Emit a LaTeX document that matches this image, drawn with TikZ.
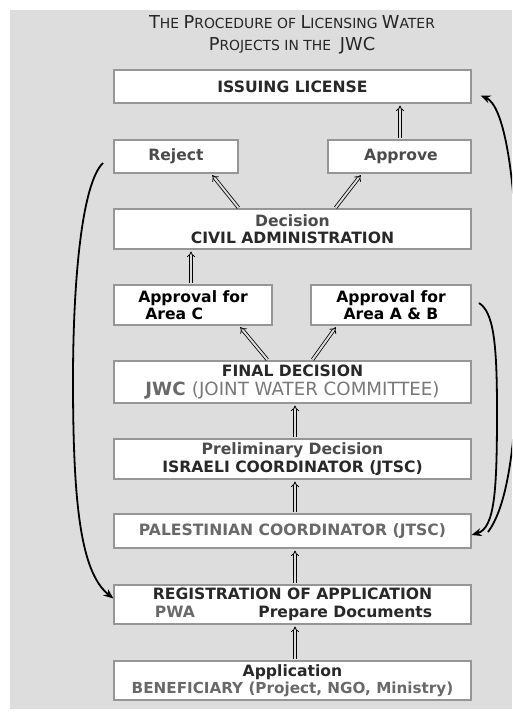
\documentclass[tikz,border=0pt]{standalone}
\usepackage{fontspec}
\setmainfont{DejaVu Sans}
\usepackage{calc}
\usetikzlibrary{arrows.meta}
\definecolor{bg}{RGB}{221,221,221}
\definecolor{boxline}{RGB}{150,150,150}
\definecolor{txtdark}{RGB}{40,40,40}
\definecolor{txtmid}{RGB}{75,75,75}
\definecolor{txtgray}{RGB}{105,105,105}
\definecolor{txtlight}{RGB}{120,120,120}
\newcommand\BG[1]{{\fontsize{17.8}{20}\selectfont#1}}
\begin{document}
\begin{tikzpicture}[x=1pt,y=-1pt,
  box/.style={draw=boxline, line width=1.1pt, fill=white, inner sep=0pt,
    font=\fontsize{15.6}{17.5}\selectfont\bfseries, text=txtdark, align=center},
  wide/.style={box, minimum width=357pt},
  dbl/.style={draw=black, line width=0.8pt, double=bg, double distance=2pt,
    -{Implies[length=5pt]}, shorten <=1pt, shorten >=2pt},
  curv/.style={draw=black, line width=1.8pt, -{Stealth[length=10pt,width=8pt]}},
  curvn/.style={draw=black, line width=1.8pt}]
\useasboundingbox (0,0) rectangle (512,713);
\fill[bg] (10,10) rectangle (512,709);

\node[text=black!85, align=center, font=\fontsize{13.9}{22.5}\selectfont] (title) at (292,35)
  {\BG{T}HE \BG{P}ROCEDURE OF \BG{L}ICENSING \BG{W}ATER\\ \BG{P}ROJECTS IN THE \ \BG{JWC}};

\node[wide, minimum height=33pt] (lic) at (292.5,86.5) {ISSUING LICENSE};
\node[box, minimum width=124pt, minimum height=33pt, text=txtmid] (rej) at (176,156.5) {Reject};
\node[box, minimum width=143pt, minimum height=33pt, text=txtmid] (app) at (399.5,156.5) {\hspace{3pt}Approve};
\node[wide, minimum height=40pt] (dec) at (292.5,229) {{\color{txtmid}Decision}\\CIVIL ADMINISTRATION};
\node[box, minimum width=158pt, minimum height=40pt, text=black, align=left] (areaC) at (193,305) {Approval for\\\hspace{7pt}Area C};
\node[box, minimum width=160pt, minimum height=40pt, text=black] (areaAB) at (391,305) {Approval for\\Area A \& B};
\node[wide, minimum height=42pt] (fin) at (292.5,382) {FINAL DECISION\\[1pt]{\fontsize{18.2}{20}\selectfont\color{txtgray}JWC \mdseries\color{txtlight}(JOINT WATER COMMITTEE)}};
\node[wide, minimum height=40pt] (pre) at (292.5,459) {{\color{txtmid}Preliminary Decision}\\ISRAELI COORDINATOR (JTSC)};
\node[wide, minimum height=34pt, text=txtgray] (pal) at (292.5,531) {PALESTINIAN COORDINATOR (JTSC)};
\node[wide, minimum height=39pt] (reg) at (292.5,604.5) {REGISTRATION OF APPLICATION\\\makebox[\widthof{REGISTRATION OF APPLICATION}]{\hspace{2pt}{\color{txtgray}PWA}\hfill Prepare Documents}};
\node[wide, minimum height=39pt] (appl) at (292.5,680.5) {Application\\{\fontsize{15.2}{17.5}\selectfont\color{txtgray}BENEFICIARY (Project, NGO, Ministry)}};

% double arrows
\draw[dbl] ([xshift=0.5pt]app.north) -- ([xshift=107.5pt]lic.south);
\draw[dbl] ([xshift=-53.5pt]dec.north) -- ([xshift=35pt]rej.south);
\draw[dbl] ([xshift=42.5pt]dec.north) -- ([xshift=-37.5pt]app.south);
\draw[dbl] ([xshift=-2pt]areaC.north) -- ([xshift=-101.5pt]dec.south);
\draw[dbl] ([xshift=-24.5pt]fin.north) -- ([xshift=46pt]areaC.south);
\draw[dbl] ([xshift=19.5pt]fin.north) -- ([xshift=-54pt]areaAB.south);
\draw[dbl] ([xshift=2.5pt]pre.north) -- ([xshift=2.5pt]fin.south);
\draw[dbl] ([xshift=2.5pt]pal.north) -- ([xshift=2.5pt]pre.south);
\draw[dbl] ([xshift=2.5pt]reg.north) -- ([xshift=2.5pt]pal.south);
\draw[dbl] ([xshift=2.5pt]appl.north) -- ([xshift=2.5pt]reg.south);

% curved connectors
\coordinate (ls) at (103,163);
\coordinate (le) at (73,380);
\coordinate (rs) at (479,303);
\coordinate (rm) at (497,410);
\coordinate (ts) at (488,532);
\coordinate (tm) at (518,320);
\draw[curvn] (ls) .. controls (82,183) and (73,280) .. (le);
\draw[curv] (le) .. controls (73,500) and (80,572) .. ([yshift=6pt]reg.west);
\draw[curvn] (rs) .. controls (493,312) and (497,340) .. (rm);
\draw[curv] (rm) .. controls (497,490) and (495,528) .. ([yshift=-4pt]pal.east);
\begin{scope}
\clip (0,0) rectangle (512,713);
\draw[curvn] (ts) .. controls (508,505) and (518,440) .. (tm);
\draw[curv] (tm) .. controls (518,170) and (503,105) .. ([xshift=9pt,yshift=-9pt]lic.east);
\end{scope}
\end{tikzpicture}
\end{document}
